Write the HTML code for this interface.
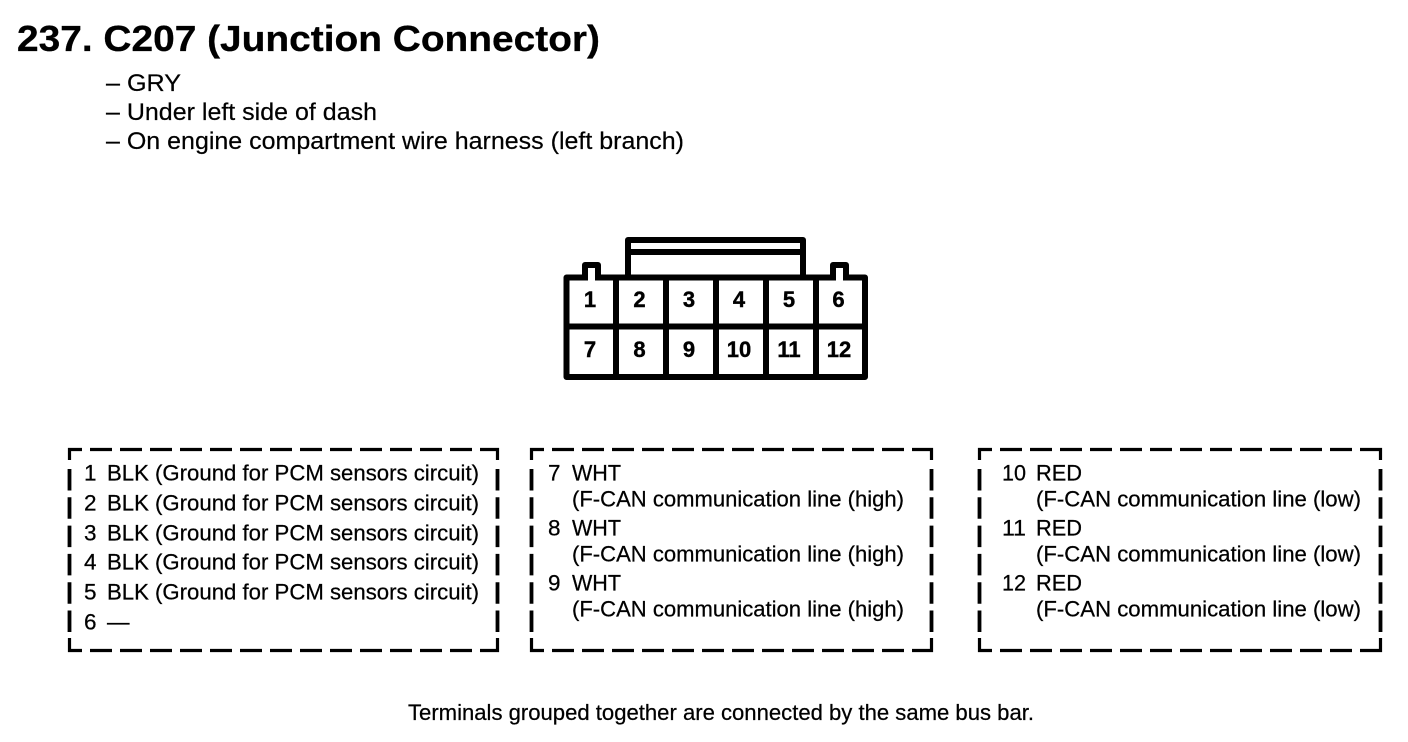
<!DOCTYPE html>
<html><head><meta charset="utf-8"><style>
html,body{margin:0;padding:0;background:#fff}
svg{display:block}
text{font-family:"Liberation Sans",Arial,sans-serif;fill:#000}
.t{font-size:22.5px;stroke:#000;stroke-width:.25px}
.h{font-size:24px;stroke:#000;stroke-width:.2px}
.n{font-size:22px;font-weight:bold;text-anchor:middle;stroke:#000;stroke-width:.4px}
.d{fill:none;stroke:#000;stroke-width:3.2px}
.v{fill:none;stroke:#000;stroke-width:3.8px}
.dh{stroke-dasharray:22 8}
.dv{stroke-dasharray:21.5 6.8}
.c{fill:none;stroke:#000;stroke-width:6px;stroke-linejoin:round;stroke-linecap:butt}
</style></head><body>
<svg width="1408" height="742" viewBox="0 0 1408 742" xmlns="http://www.w3.org/2000/svg">
<rect width="1408" height="742" fill="#fff"/>
<text x="17" y="51" font-size="36.5" font-weight="bold" textLength="583" lengthAdjust="spacingAndGlyphs" stroke="#000" stroke-width=".3">237. C207 (Junction Connector)</text>
<text class="h" x="106" y="91" textLength="75" lengthAdjust="spacingAndGlyphs">– GRY</text>
<text class="h" x="106" y="120" textLength="271" lengthAdjust="spacingAndGlyphs">– Under left side of dash</text>
<text class="h" x="106" y="149" textLength="578" lengthAdjust="spacingAndGlyphs">– On engine compartment wire harness (left branch)</text>

<path class="c" d="M628 277V240H803V277"/>
<path class="c" d="M628 252H803"/>
<path class="c" d="M585 277V265H598V277M833 277V265H846V277"/>
<rect class="c" x="566.5" y="277.5" width="298.5" height="99.5"/>
<path class="c" d="M566.5 326.5H865M616 277.5V377M666 277.5V377M716 277.5V377M766 277.5V377M816 277.5V377"/>
<path d="M588 274h7v7h-7zM836 274h7v7h-7z" fill="#fff"/>

<text class="n" x="590" y="307">1</text><text class="n" x="639.5" y="307">2</text><text class="n" x="689" y="307">3</text><text class="n" x="739" y="307">4</text><text class="n" x="789" y="307">5</text><text class="n" x="838.5" y="307">6</text>
<text class="n" x="590" y="357">7</text><text class="n" x="639.5" y="357">8</text><text class="n" x="689" y="357">9</text><text class="n" x="739" y="357">10</text><text class="n" x="789" y="357">11</text><text class="n" x="839" y="357">12</text>

<!-- Box 1 -->
<path class="d" d="M69.5 460V449.5H82M480 449.5H497.5V460M69.5 638V650.5H82M480 650.5H497.5V638"/>
<path class="d dh" d="M90 449.5H472M90 650.5H472"/>
<path class="v dv" d="M69.5 469V633M497.5 469V633"/>
<!-- Box 2 -->
<path class="d" d="M531.5 460V449.5H544M912 449.5H931.5V460M531.5 638V650.5H544M912 650.5H931.5V638"/>
<path class="d dh" d="M552 449.5H904M552 650.5H904"/>
<path class="v dv" d="M531.5 469V633M931.5 469V633"/>
<!-- Box 3 -->
<path class="d" d="M979.5 460V449.5H992M1360 449.5H1380.5V460M979.5 638V650.5H992M1360 650.5H1380.5V638"/>
<path class="d dh" d="M1000 449.5H1352M1000 650.5H1352"/>
<path class="v dv" d="M979.5 469V633M1380.5 469V633"/>

<text class="t" x="84" y="480.5">1</text><text class="t" x="107" y="480.5" textLength="372" lengthAdjust="spacingAndGlyphs">BLK (Ground for PCM sensors circuit)</text>
<text class="t" x="84" y="510.5">2</text><text class="t" x="107" y="510.5" textLength="372" lengthAdjust="spacingAndGlyphs">BLK (Ground for PCM sensors circuit)</text>
<text class="t" x="84" y="540.5">3</text><text class="t" x="107" y="540.5" textLength="372" lengthAdjust="spacingAndGlyphs">BLK (Ground for PCM sensors circuit)</text>
<text class="t" x="84" y="569.5">4</text><text class="t" x="107" y="569.5" textLength="372" lengthAdjust="spacingAndGlyphs">BLK (Ground for PCM sensors circuit)</text>
<text class="t" x="84" y="599.5">5</text><text class="t" x="107" y="599.5" textLength="372" lengthAdjust="spacingAndGlyphs">BLK (Ground for PCM sensors circuit)</text>
<text class="t" x="84" y="629.5">6</text><text class="t" x="107" y="629.5">—</text>

<text class="t" x="548" y="480.5">7</text><text class="t" x="572" y="480.5" textLength="49" lengthAdjust="spacingAndGlyphs">WHT</text>
<text class="t" x="572" y="506.5" textLength="332" lengthAdjust="spacingAndGlyphs">(F-CAN communication line (high)</text>
<text class="t" x="548" y="535.5">8</text><text class="t" x="572" y="535.5" textLength="49" lengthAdjust="spacingAndGlyphs">WHT</text>
<text class="t" x="572" y="561.5" textLength="332" lengthAdjust="spacingAndGlyphs">(F-CAN communication line (high)</text>
<text class="t" x="548" y="590.5">9</text><text class="t" x="572" y="590.5" textLength="49" lengthAdjust="spacingAndGlyphs">WHT</text>
<text class="t" x="572" y="616.5" textLength="332" lengthAdjust="spacingAndGlyphs">(F-CAN communication line (high)</text>

<text class="t" x="1002" y="480.5" textLength="24" lengthAdjust="spacingAndGlyphs">10</text><text class="t" x="1036" y="480.5" textLength="46" lengthAdjust="spacingAndGlyphs">RED</text>
<text class="t" x="1036" y="506.5" textLength="325" lengthAdjust="spacingAndGlyphs">(F-CAN communication line (low)</text>
<text class="t" x="1002" y="535.5" textLength="24" lengthAdjust="spacingAndGlyphs">11</text><text class="t" x="1036" y="535.5" textLength="46" lengthAdjust="spacingAndGlyphs">RED</text>
<text class="t" x="1036" y="561.5" textLength="325" lengthAdjust="spacingAndGlyphs">(F-CAN communication line (low)</text>
<text class="t" x="1002" y="590.5" textLength="24" lengthAdjust="spacingAndGlyphs">12</text><text class="t" x="1036" y="590.5" textLength="46" lengthAdjust="spacingAndGlyphs">RED</text>
<text class="t" x="1036" y="616.5" textLength="325" lengthAdjust="spacingAndGlyphs">(F-CAN communication line (low)</text>

<text class="t" x="408" y="720" textLength="626" lengthAdjust="spacingAndGlyphs">Terminals grouped together are connected by the same bus bar.</text>
</svg>
</body></html>
